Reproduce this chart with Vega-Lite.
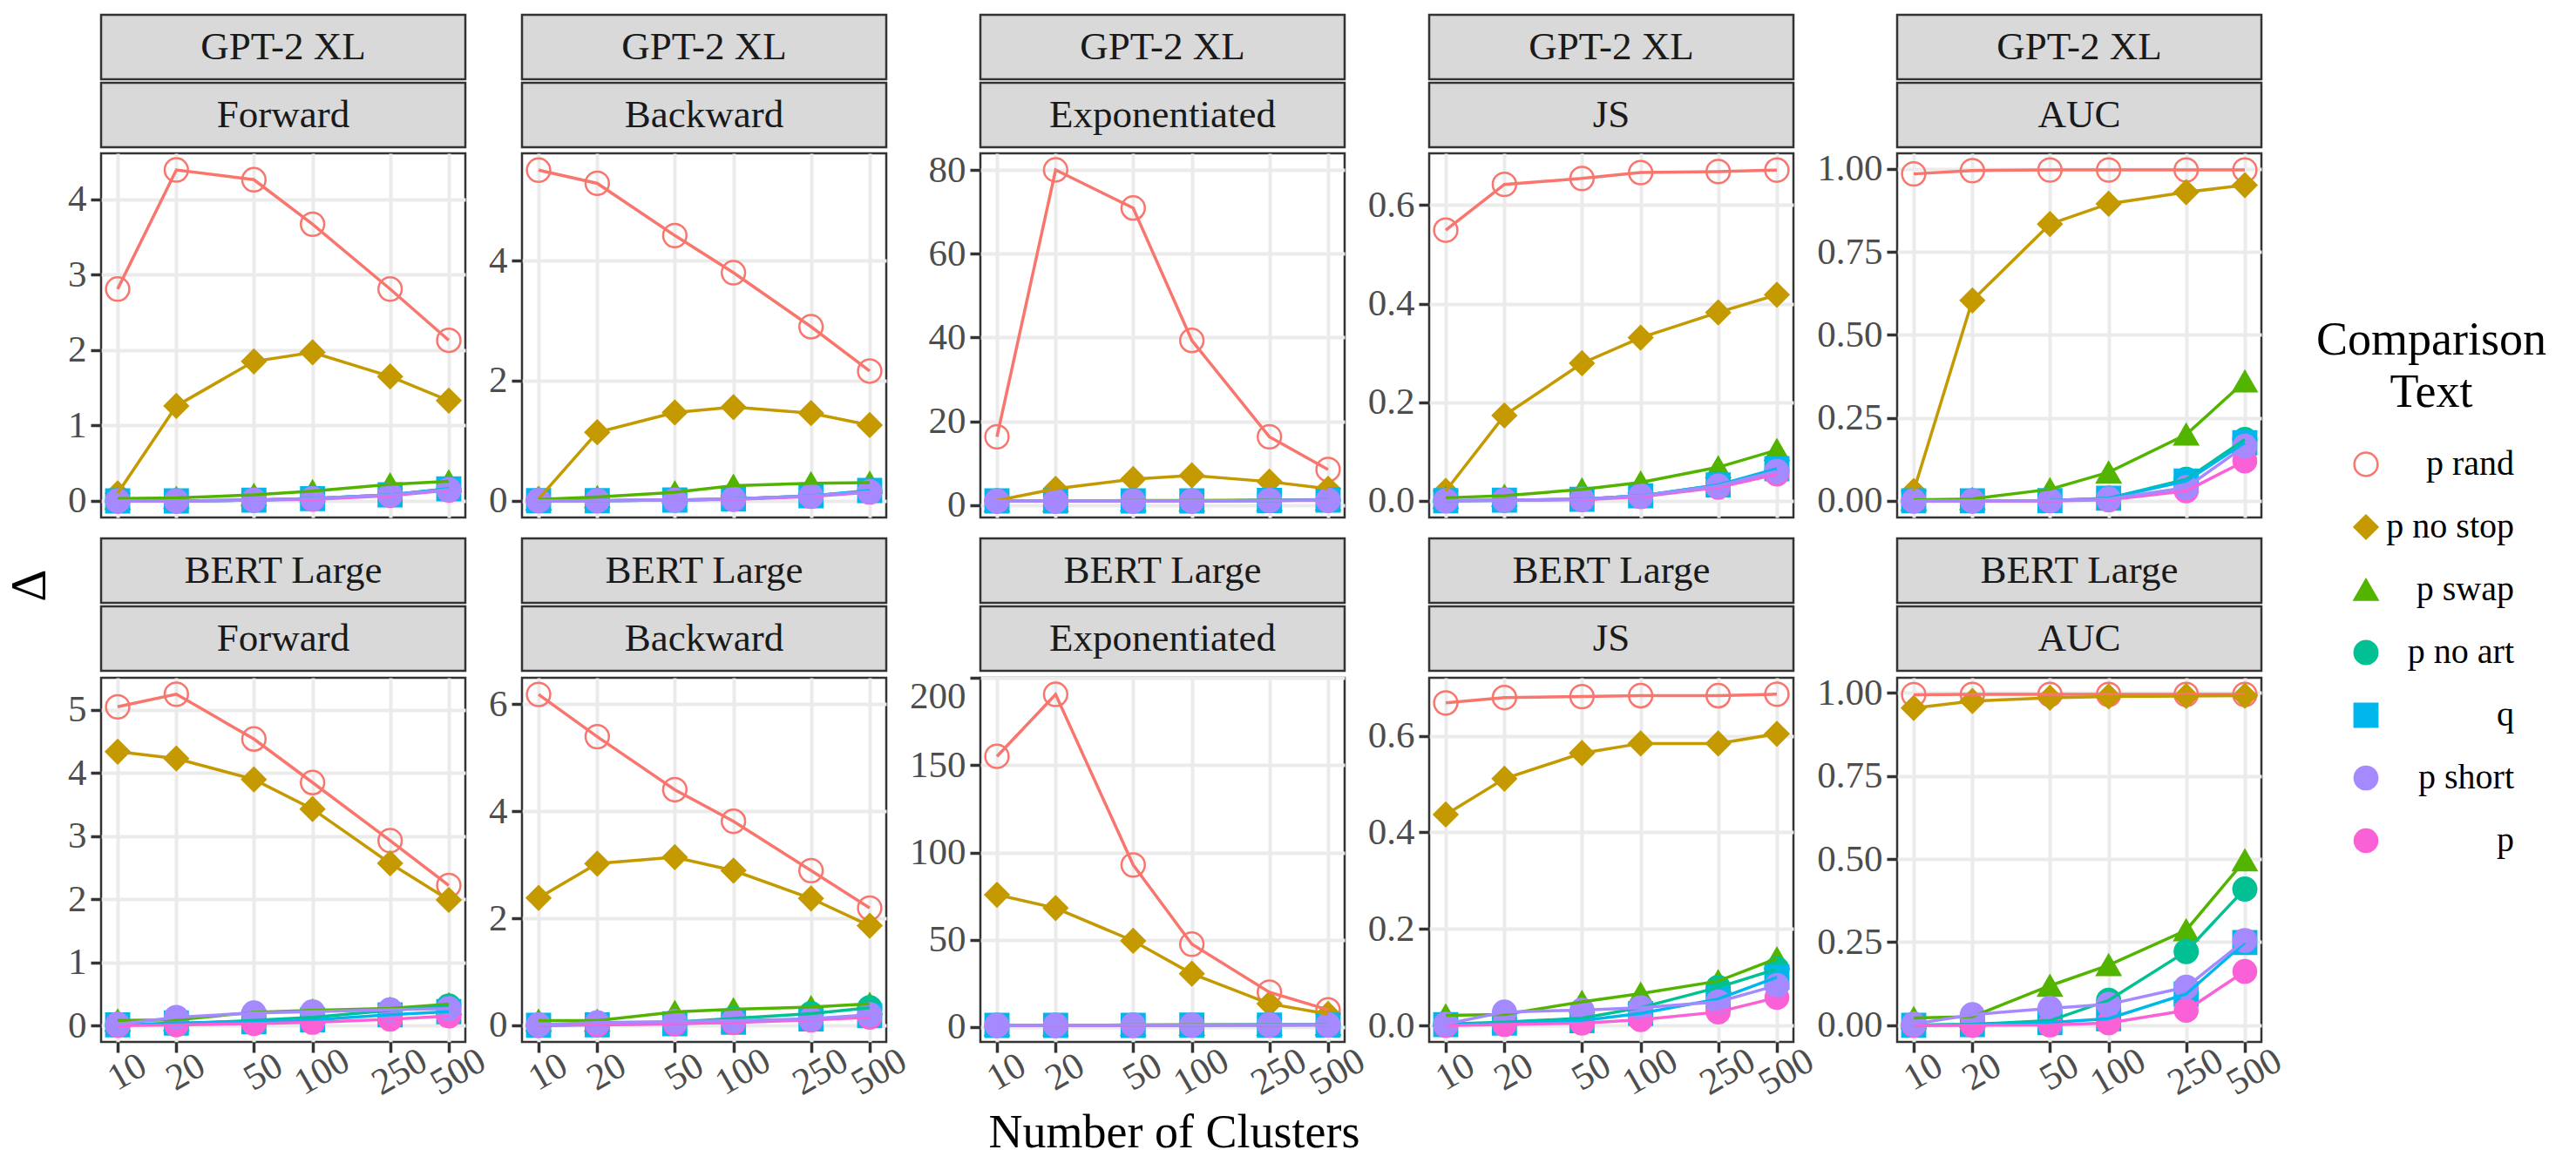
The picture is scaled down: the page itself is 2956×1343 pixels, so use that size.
{
"$schema": "https://vega.github.io/schema/vega-lite/v6.json",
"background": "white",
"padding": {"left": 6, "top": 15, "right": 10, "bottom": 10},
"title": {"text": "Δ", "orient": "left", "anchor": "middle", "font": "Liberation Serif", "fontSize": 58, "fontWeight": "normal", "color": "#000000", "offset": 12},
"config": {
  "font": "Liberation Serif",
  "view": {"stroke": "#333333", "strokeWidth": 2.5},
  "axis": {"labelFont": "Liberation Serif", "labelFontSize": 43, "labelColor": "#4D4D4D", "tickColor": "#333333", "tickWidth": 3.5, "tickSize": 12, "labelPadding": 5, "domain": false, "gridColor": "#EBEBEB", "gridWidth": 4, "titleFont": "Liberation Serif", "titleFontSize": 54, "titleFontWeight": "normal", "titleColor": "#000000", "labelFlush": false, "labelOverlap": false},
  "legend": {"titleFont": "Liberation Serif", "titleFontSize": 54, "titleFontWeight": "normal", "titleColor": "#000000", "titleAnchor": "middle", "titleAlign": "center", "titleLineHeight": 60, "titlePadding": 35, "titleLimit": 800, "labelFont": "Liberation Serif", "labelFontSize": 40, "labelColor": "#000000", "labelAlign": "right", "labelOffset": 150, "labelLimit": 400, "rowPadding": 32, "symbolStrokeWidth": 2.5, "padding": 0}
},
"datasets": {"d": [
{"model":"GPT-2 XL","metric":"Forward","text":"p rand","clusters":10,"delta":2.81},
{"model":"GPT-2 XL","metric":"Forward","text":"p rand","clusters":20,"delta":4.39},
{"model":"GPT-2 XL","metric":"Forward","text":"p rand","clusters":50,"delta":4.26},
{"model":"GPT-2 XL","metric":"Forward","text":"p rand","clusters":100,"delta":3.67},
{"model":"GPT-2 XL","metric":"Forward","text":"p rand","clusters":250,"delta":2.81},
{"model":"GPT-2 XL","metric":"Forward","text":"p rand","clusters":500,"delta":2.13},
{"model":"GPT-2 XL","metric":"Forward","text":"p no stop","clusters":10,"delta":0.10},
{"model":"GPT-2 XL","metric":"Forward","text":"p no stop","clusters":20,"delta":1.26},
{"model":"GPT-2 XL","metric":"Forward","text":"p no stop","clusters":50,"delta":1.85},
{"model":"GPT-2 XL","metric":"Forward","text":"p no stop","clusters":100,"delta":1.97},
{"model":"GPT-2 XL","metric":"Forward","text":"p no stop","clusters":250,"delta":1.65},
{"model":"GPT-2 XL","metric":"Forward","text":"p no stop","clusters":500,"delta":1.33},
{"model":"GPT-2 XL","metric":"Forward","text":"p swap","clusters":10,"delta":0.03},
{"model":"GPT-2 XL","metric":"Forward","text":"p swap","clusters":20,"delta":0.04},
{"model":"GPT-2 XL","metric":"Forward","text":"p swap","clusters":50,"delta":0.08},
{"model":"GPT-2 XL","metric":"Forward","text":"p swap","clusters":100,"delta":0.13},
{"model":"GPT-2 XL","metric":"Forward","text":"p swap","clusters":250,"delta":0.22},
{"model":"GPT-2 XL","metric":"Forward","text":"p swap","clusters":500,"delta":0.26},
{"model":"GPT-2 XL","metric":"Forward","text":"p no art","clusters":10,"delta":0.00},
{"model":"GPT-2 XL","metric":"Forward","text":"p no art","clusters":20,"delta":0.00},
{"model":"GPT-2 XL","metric":"Forward","text":"p no art","clusters":50,"delta":0.01},
{"model":"GPT-2 XL","metric":"Forward","text":"p no art","clusters":100,"delta":0.03},
{"model":"GPT-2 XL","metric":"Forward","text":"p no art","clusters":250,"delta":0.08},
{"model":"GPT-2 XL","metric":"Forward","text":"p no art","clusters":500,"delta":0.16},
{"model":"GPT-2 XL","metric":"Forward","text":"q","clusters":10,"delta":0.00},
{"model":"GPT-2 XL","metric":"Forward","text":"q","clusters":20,"delta":0.00},
{"model":"GPT-2 XL","metric":"Forward","text":"q","clusters":50,"delta":0.01},
{"model":"GPT-2 XL","metric":"Forward","text":"q","clusters":100,"delta":0.03},
{"model":"GPT-2 XL","metric":"Forward","text":"q","clusters":250,"delta":0.08},
{"model":"GPT-2 XL","metric":"Forward","text":"q","clusters":500,"delta":0.16},
{"model":"GPT-2 XL","metric":"Forward","text":"p","clusters":10,"delta":0.00},
{"model":"GPT-2 XL","metric":"Forward","text":"p","clusters":20,"delta":0.00},
{"model":"GPT-2 XL","metric":"Forward","text":"p","clusters":50,"delta":0.01},
{"model":"GPT-2 XL","metric":"Forward","text":"p","clusters":100,"delta":0.02},
{"model":"GPT-2 XL","metric":"Forward","text":"p","clusters":250,"delta":0.07},
{"model":"GPT-2 XL","metric":"Forward","text":"p","clusters":500,"delta":0.14},
{"model":"GPT-2 XL","metric":"Forward","text":"p short","clusters":10,"delta":0.00},
{"model":"GPT-2 XL","metric":"Forward","text":"p short","clusters":20,"delta":0.00},
{"model":"GPT-2 XL","metric":"Forward","text":"p short","clusters":50,"delta":0.01},
{"model":"GPT-2 XL","metric":"Forward","text":"p short","clusters":100,"delta":0.03},
{"model":"GPT-2 XL","metric":"Forward","text":"p short","clusters":250,"delta":0.08},
{"model":"GPT-2 XL","metric":"Forward","text":"p short","clusters":500,"delta":0.15},
{"model":"GPT-2 XL","metric":"Backward","text":"p rand","clusters":10,"delta":5.51},
{"model":"GPT-2 XL","metric":"Backward","text":"p rand","clusters":20,"delta":5.29},
{"model":"GPT-2 XL","metric":"Backward","text":"p rand","clusters":50,"delta":4.42},
{"model":"GPT-2 XL","metric":"Backward","text":"p rand","clusters":100,"delta":3.80},
{"model":"GPT-2 XL","metric":"Backward","text":"p rand","clusters":250,"delta":2.90},
{"model":"GPT-2 XL","metric":"Backward","text":"p rand","clusters":500,"delta":2.16},
{"model":"GPT-2 XL","metric":"Backward","text":"p no stop","clusters":10,"delta":0.03},
{"model":"GPT-2 XL","metric":"Backward","text":"p no stop","clusters":20,"delta":1.14},
{"model":"GPT-2 XL","metric":"Backward","text":"p no stop","clusters":50,"delta":1.47},
{"model":"GPT-2 XL","metric":"Backward","text":"p no stop","clusters":100,"delta":1.56},
{"model":"GPT-2 XL","metric":"Backward","text":"p no stop","clusters":250,"delta":1.46},
{"model":"GPT-2 XL","metric":"Backward","text":"p no stop","clusters":500,"delta":1.26},
{"model":"GPT-2 XL","metric":"Backward","text":"p swap","clusters":10,"delta":0.02},
{"model":"GPT-2 XL","metric":"Backward","text":"p swap","clusters":20,"delta":0.06},
{"model":"GPT-2 XL","metric":"Backward","text":"p swap","clusters":50,"delta":0.14},
{"model":"GPT-2 XL","metric":"Backward","text":"p swap","clusters":100,"delta":0.25},
{"model":"GPT-2 XL","metric":"Backward","text":"p swap","clusters":250,"delta":0.29},
{"model":"GPT-2 XL","metric":"Backward","text":"p swap","clusters":500,"delta":0.30},
{"model":"GPT-2 XL","metric":"Backward","text":"p no art","clusters":10,"delta":0.00},
{"model":"GPT-2 XL","metric":"Backward","text":"p no art","clusters":20,"delta":0.00},
{"model":"GPT-2 XL","metric":"Backward","text":"p no art","clusters":50,"delta":0.01},
{"model":"GPT-2 XL","metric":"Backward","text":"p no art","clusters":100,"delta":0.03},
{"model":"GPT-2 XL","metric":"Backward","text":"p no art","clusters":250,"delta":0.08},
{"model":"GPT-2 XL","metric":"Backward","text":"p no art","clusters":500,"delta":0.16},
{"model":"GPT-2 XL","metric":"Backward","text":"q","clusters":10,"delta":0.00},
{"model":"GPT-2 XL","metric":"Backward","text":"q","clusters":20,"delta":0.00},
{"model":"GPT-2 XL","metric":"Backward","text":"q","clusters":50,"delta":0.01},
{"model":"GPT-2 XL","metric":"Backward","text":"q","clusters":100,"delta":0.03},
{"model":"GPT-2 XL","metric":"Backward","text":"q","clusters":250,"delta":0.08},
{"model":"GPT-2 XL","metric":"Backward","text":"q","clusters":500,"delta":0.17},
{"model":"GPT-2 XL","metric":"Backward","text":"p","clusters":10,"delta":0.00},
{"model":"GPT-2 XL","metric":"Backward","text":"p","clusters":20,"delta":0.00},
{"model":"GPT-2 XL","metric":"Backward","text":"p","clusters":50,"delta":0.01},
{"model":"GPT-2 XL","metric":"Backward","text":"p","clusters":100,"delta":0.02},
{"model":"GPT-2 XL","metric":"Backward","text":"p","clusters":250,"delta":0.07},
{"model":"GPT-2 XL","metric":"Backward","text":"p","clusters":500,"delta":0.14},
{"model":"GPT-2 XL","metric":"Backward","text":"p short","clusters":10,"delta":0.00},
{"model":"GPT-2 XL","metric":"Backward","text":"p short","clusters":20,"delta":0.00},
{"model":"GPT-2 XL","metric":"Backward","text":"p short","clusters":50,"delta":0.01},
{"model":"GPT-2 XL","metric":"Backward","text":"p short","clusters":100,"delta":0.03},
{"model":"GPT-2 XL","metric":"Backward","text":"p short","clusters":250,"delta":0.08},
{"model":"GPT-2 XL","metric":"Backward","text":"p short","clusters":500,"delta":0.15},
{"model":"GPT-2 XL","metric":"Exponentiated","text":"p rand","clusters":10,"delta":16.3},
{"model":"GPT-2 XL","metric":"Exponentiated","text":"p rand","clusters":20,"delta":80.0},
{"model":"GPT-2 XL","metric":"Exponentiated","text":"p rand","clusters":50,"delta":70.9},
{"model":"GPT-2 XL","metric":"Exponentiated","text":"p rand","clusters":100,"delta":39.3},
{"model":"GPT-2 XL","metric":"Exponentiated","text":"p rand","clusters":250,"delta":16.3},
{"model":"GPT-2 XL","metric":"Exponentiated","text":"p rand","clusters":500,"delta":8.5},
{"model":"GPT-2 XL","metric":"Exponentiated","text":"p no stop","clusters":10,"delta":1.1},
{"model":"GPT-2 XL","metric":"Exponentiated","text":"p no stop","clusters":20,"delta":3.9},
{"model":"GPT-2 XL","metric":"Exponentiated","text":"p no stop","clusters":50,"delta":6.2},
{"model":"GPT-2 XL","metric":"Exponentiated","text":"p no stop","clusters":100,"delta":7.1},
{"model":"GPT-2 XL","metric":"Exponentiated","text":"p no stop","clusters":250,"delta":5.6},
{"model":"GPT-2 XL","metric":"Exponentiated","text":"p no stop","clusters":500,"delta":3.9},
{"model":"GPT-2 XL","metric":"Exponentiated","text":"p swap","clusters":10,"delta":1.0},
{"model":"GPT-2 XL","metric":"Exponentiated","text":"p swap","clusters":20,"delta":1.0},
{"model":"GPT-2 XL","metric":"Exponentiated","text":"p swap","clusters":50,"delta":1.1},
{"model":"GPT-2 XL","metric":"Exponentiated","text":"p swap","clusters":100,"delta":1.1},
{"model":"GPT-2 XL","metric":"Exponentiated","text":"p swap","clusters":250,"delta":1.2},
{"model":"GPT-2 XL","metric":"Exponentiated","text":"p swap","clusters":500,"delta":1.3},
{"model":"GPT-2 XL","metric":"Exponentiated","text":"p no art","clusters":10,"delta":1.0},
{"model":"GPT-2 XL","metric":"Exponentiated","text":"p no art","clusters":20,"delta":1.0},
{"model":"GPT-2 XL","metric":"Exponentiated","text":"p no art","clusters":50,"delta":1.0},
{"model":"GPT-2 XL","metric":"Exponentiated","text":"p no art","clusters":100,"delta":1.0},
{"model":"GPT-2 XL","metric":"Exponentiated","text":"p no art","clusters":250,"delta":1.1},
{"model":"GPT-2 XL","metric":"Exponentiated","text":"p no art","clusters":500,"delta":1.2},
{"model":"GPT-2 XL","metric":"Exponentiated","text":"q","clusters":10,"delta":1.0},
{"model":"GPT-2 XL","metric":"Exponentiated","text":"q","clusters":20,"delta":1.0},
{"model":"GPT-2 XL","metric":"Exponentiated","text":"q","clusters":50,"delta":1.0},
{"model":"GPT-2 XL","metric":"Exponentiated","text":"q","clusters":100,"delta":1.0},
{"model":"GPT-2 XL","metric":"Exponentiated","text":"q","clusters":250,"delta":1.1},
{"model":"GPT-2 XL","metric":"Exponentiated","text":"q","clusters":500,"delta":1.2},
{"model":"GPT-2 XL","metric":"Exponentiated","text":"p","clusters":10,"delta":1.0},
{"model":"GPT-2 XL","metric":"Exponentiated","text":"p","clusters":20,"delta":1.0},
{"model":"GPT-2 XL","metric":"Exponentiated","text":"p","clusters":50,"delta":1.0},
{"model":"GPT-2 XL","metric":"Exponentiated","text":"p","clusters":100,"delta":1.0},
{"model":"GPT-2 XL","metric":"Exponentiated","text":"p","clusters":250,"delta":1.1},
{"model":"GPT-2 XL","metric":"Exponentiated","text":"p","clusters":500,"delta":1.1},
{"model":"GPT-2 XL","metric":"Exponentiated","text":"p short","clusters":10,"delta":1.0},
{"model":"GPT-2 XL","metric":"Exponentiated","text":"p short","clusters":20,"delta":1.0},
{"model":"GPT-2 XL","metric":"Exponentiated","text":"p short","clusters":50,"delta":1.0},
{"model":"GPT-2 XL","metric":"Exponentiated","text":"p short","clusters":100,"delta":1.0},
{"model":"GPT-2 XL","metric":"Exponentiated","text":"p short","clusters":250,"delta":1.1},
{"model":"GPT-2 XL","metric":"Exponentiated","text":"p short","clusters":500,"delta":1.2},
{"model":"GPT-2 XL","metric":"JS","text":"p rand","clusters":10,"delta":0.549},
{"model":"GPT-2 XL","metric":"JS","text":"p rand","clusters":20,"delta":0.642},
{"model":"GPT-2 XL","metric":"JS","text":"p rand","clusters":50,"delta":0.654},
{"model":"GPT-2 XL","metric":"JS","text":"p rand","clusters":100,"delta":0.666},
{"model":"GPT-2 XL","metric":"JS","text":"p rand","clusters":250,"delta":0.668},
{"model":"GPT-2 XL","metric":"JS","text":"p rand","clusters":500,"delta":0.671},
{"model":"GPT-2 XL","metric":"JS","text":"p no stop","clusters":10,"delta":0.02},
{"model":"GPT-2 XL","metric":"JS","text":"p no stop","clusters":20,"delta":0.173},
{"model":"GPT-2 XL","metric":"JS","text":"p no stop","clusters":50,"delta":0.279},
{"model":"GPT-2 XL","metric":"JS","text":"p no stop","clusters":100,"delta":0.331},
{"model":"GPT-2 XL","metric":"JS","text":"p no stop","clusters":250,"delta":0.382},
{"model":"GPT-2 XL","metric":"JS","text":"p no stop","clusters":500,"delta":0.418},
{"model":"GPT-2 XL","metric":"JS","text":"p swap","clusters":10,"delta":0.006},
{"model":"GPT-2 XL","metric":"JS","text":"p swap","clusters":20,"delta":0.010},
{"model":"GPT-2 XL","metric":"JS","text":"p swap","clusters":50,"delta":0.023},
{"model":"GPT-2 XL","metric":"JS","text":"p swap","clusters":100,"delta":0.037},
{"model":"GPT-2 XL","metric":"JS","text":"p swap","clusters":250,"delta":0.068},
{"model":"GPT-2 XL","metric":"JS","text":"p swap","clusters":500,"delta":0.103},
{"model":"GPT-2 XL","metric":"JS","text":"p no art","clusters":10,"delta":0.000},
{"model":"GPT-2 XL","metric":"JS","text":"p no art","clusters":20,"delta":0.001},
{"model":"GPT-2 XL","metric":"JS","text":"p no art","clusters":50,"delta":0.003},
{"model":"GPT-2 XL","metric":"JS","text":"p no art","clusters":100,"delta":0.010},
{"model":"GPT-2 XL","metric":"JS","text":"p no art","clusters":250,"delta":0.032},
{"model":"GPT-2 XL","metric":"JS","text":"p no art","clusters":500,"delta":0.062},
{"model":"GPT-2 XL","metric":"JS","text":"q","clusters":10,"delta":0.000},
{"model":"GPT-2 XL","metric":"JS","text":"q","clusters":20,"delta":0.001},
{"model":"GPT-2 XL","metric":"JS","text":"q","clusters":50,"delta":0.003},
{"model":"GPT-2 XL","metric":"JS","text":"q","clusters":100,"delta":0.010},
{"model":"GPT-2 XL","metric":"JS","text":"q","clusters":250,"delta":0.032},
{"model":"GPT-2 XL","metric":"JS","text":"q","clusters":500,"delta":0.065},
{"model":"GPT-2 XL","metric":"JS","text":"p","clusters":10,"delta":0.000},
{"model":"GPT-2 XL","metric":"JS","text":"p","clusters":20,"delta":0.001},
{"model":"GPT-2 XL","metric":"JS","text":"p","clusters":50,"delta":0.002},
{"model":"GPT-2 XL","metric":"JS","text":"p","clusters":100,"delta":0.008},
{"model":"GPT-2 XL","metric":"JS","text":"p","clusters":250,"delta":0.027},
{"model":"GPT-2 XL","metric":"JS","text":"p","clusters":500,"delta":0.054},
{"model":"GPT-2 XL","metric":"JS","text":"p short","clusters":10,"delta":0.000},
{"model":"GPT-2 XL","metric":"JS","text":"p short","clusters":20,"delta":0.001},
{"model":"GPT-2 XL","metric":"JS","text":"p short","clusters":50,"delta":0.003},
{"model":"GPT-2 XL","metric":"JS","text":"p short","clusters":100,"delta":0.010},
{"model":"GPT-2 XL","metric":"JS","text":"p short","clusters":250,"delta":0.030},
{"model":"GPT-2 XL","metric":"JS","text":"p short","clusters":500,"delta":0.060},
{"model":"GPT-2 XL","metric":"AUC","text":"p rand","clusters":10,"delta":0.985},
{"model":"GPT-2 XL","metric":"AUC","text":"p rand","clusters":20,"delta":0.995},
{"model":"GPT-2 XL","metric":"AUC","text":"p rand","clusters":50,"delta":0.997},
{"model":"GPT-2 XL","metric":"AUC","text":"p rand","clusters":100,"delta":0.997},
{"model":"GPT-2 XL","metric":"AUC","text":"p rand","clusters":250,"delta":0.997},
{"model":"GPT-2 XL","metric":"AUC","text":"p rand","clusters":500,"delta":0.997},
{"model":"GPT-2 XL","metric":"AUC","text":"p no stop","clusters":10,"delta":0.03},
{"model":"GPT-2 XL","metric":"AUC","text":"p no stop","clusters":20,"delta":0.604},
{"model":"GPT-2 XL","metric":"AUC","text":"p no stop","clusters":50,"delta":0.834},
{"model":"GPT-2 XL","metric":"AUC","text":"p no stop","clusters":100,"delta":0.895},
{"model":"GPT-2 XL","metric":"AUC","text":"p no stop","clusters":250,"delta":0.930},
{"model":"GPT-2 XL","metric":"AUC","text":"p no stop","clusters":500,"delta":0.951},
{"model":"GPT-2 XL","metric":"AUC","text":"p swap","clusters":10,"delta":0.003},
{"model":"GPT-2 XL","metric":"AUC","text":"p swap","clusters":20,"delta":0.006},
{"model":"GPT-2 XL","metric":"AUC","text":"p swap","clusters":50,"delta":0.035},
{"model":"GPT-2 XL","metric":"AUC","text":"p swap","clusters":100,"delta":0.086},
{"model":"GPT-2 XL","metric":"AUC","text":"p swap","clusters":250,"delta":0.200},
{"model":"GPT-2 XL","metric":"AUC","text":"p swap","clusters":500,"delta":0.360},
{"model":"GPT-2 XL","metric":"AUC","text":"p no art","clusters":10,"delta":0.000},
{"model":"GPT-2 XL","metric":"AUC","text":"p no art","clusters":20,"delta":0.000},
{"model":"GPT-2 XL","metric":"AUC","text":"p no art","clusters":50,"delta":0.001},
{"model":"GPT-2 XL","metric":"AUC","text":"p no art","clusters":100,"delta":0.008},
{"model":"GPT-2 XL","metric":"AUC","text":"p no art","clusters":250,"delta":0.065},
{"model":"GPT-2 XL","metric":"AUC","text":"p no art","clusters":500,"delta":0.185},
{"model":"GPT-2 XL","metric":"AUC","text":"q","clusters":10,"delta":0.000},
{"model":"GPT-2 XL","metric":"AUC","text":"q","clusters":20,"delta":0.000},
{"model":"GPT-2 XL","metric":"AUC","text":"q","clusters":50,"delta":0.001},
{"model":"GPT-2 XL","metric":"AUC","text":"q","clusters":100,"delta":0.008},
{"model":"GPT-2 XL","metric":"AUC","text":"q","clusters":250,"delta":0.060},
{"model":"GPT-2 XL","metric":"AUC","text":"q","clusters":500,"delta":0.175},
{"model":"GPT-2 XL","metric":"AUC","text":"p","clusters":10,"delta":0.000},
{"model":"GPT-2 XL","metric":"AUC","text":"p","clusters":20,"delta":0.000},
{"model":"GPT-2 XL","metric":"AUC","text":"p","clusters":50,"delta":0.000},
{"model":"GPT-2 XL","metric":"AUC","text":"p","clusters":100,"delta":0.003},
{"model":"GPT-2 XL","metric":"AUC","text":"p","clusters":250,"delta":0.030},
{"model":"GPT-2 XL","metric":"AUC","text":"p","clusters":500,"delta":0.120},
{"model":"GPT-2 XL","metric":"AUC","text":"p short","clusters":10,"delta":0.000},
{"model":"GPT-2 XL","metric":"AUC","text":"p short","clusters":20,"delta":0.000},
{"model":"GPT-2 XL","metric":"AUC","text":"p short","clusters":50,"delta":0.001},
{"model":"GPT-2 XL","metric":"AUC","text":"p short","clusters":100,"delta":0.006},
{"model":"GPT-2 XL","metric":"AUC","text":"p short","clusters":250,"delta":0.040},
{"model":"GPT-2 XL","metric":"AUC","text":"p short","clusters":500,"delta":0.165},
{"model":"BERT Large","metric":"Forward","text":"p rand","clusters":10,"delta":5.05},
{"model":"BERT Large","metric":"Forward","text":"p rand","clusters":20,"delta":5.25},
{"model":"BERT Large","metric":"Forward","text":"p rand","clusters":50,"delta":4.54},
{"model":"BERT Large","metric":"Forward","text":"p rand","clusters":100,"delta":3.85},
{"model":"BERT Large","metric":"Forward","text":"p rand","clusters":250,"delta":2.93},
{"model":"BERT Large","metric":"Forward","text":"p rand","clusters":500,"delta":2.22},
{"model":"BERT Large","metric":"Forward","text":"p no stop","clusters":10,"delta":4.34},
{"model":"BERT Large","metric":"Forward","text":"p no stop","clusters":20,"delta":4.23},
{"model":"BERT Large","metric":"Forward","text":"p no stop","clusters":50,"delta":3.90},
{"model":"BERT Large","metric":"Forward","text":"p no stop","clusters":100,"delta":3.43},
{"model":"BERT Large","metric":"Forward","text":"p no stop","clusters":250,"delta":2.57},
{"model":"BERT Large","metric":"Forward","text":"p no stop","clusters":500,"delta":1.99},
{"model":"BERT Large","metric":"Forward","text":"p swap","clusters":10,"delta":0.08},
{"model":"BERT Large","metric":"Forward","text":"p swap","clusters":20,"delta":0.09},
{"model":"BERT Large","metric":"Forward","text":"p swap","clusters":50,"delta":0.21},
{"model":"BERT Large","metric":"Forward","text":"p swap","clusters":100,"delta":0.24},
{"model":"BERT Large","metric":"Forward","text":"p swap","clusters":250,"delta":0.27},
{"model":"BERT Large","metric":"Forward","text":"p swap","clusters":500,"delta":0.34},
{"model":"BERT Large","metric":"Forward","text":"p no art","clusters":10,"delta":0.01},
{"model":"BERT Large","metric":"Forward","text":"p no art","clusters":20,"delta":0.03},
{"model":"BERT Large","metric":"Forward","text":"p no art","clusters":50,"delta":0.08},
{"model":"BERT Large","metric":"Forward","text":"p no art","clusters":100,"delta":0.13},
{"model":"BERT Large","metric":"Forward","text":"p no art","clusters":250,"delta":0.24},
{"model":"BERT Large","metric":"Forward","text":"p no art","clusters":500,"delta":0.31},
{"model":"BERT Large","metric":"Forward","text":"q","clusters":10,"delta":0.01},
{"model":"BERT Large","metric":"Forward","text":"q","clusters":20,"delta":0.04},
{"model":"BERT Large","metric":"Forward","text":"q","clusters":50,"delta":0.06},
{"model":"BERT Large","metric":"Forward","text":"q","clusters":100,"delta":0.09},
{"model":"BERT Large","metric":"Forward","text":"q","clusters":250,"delta":0.17},
{"model":"BERT Large","metric":"Forward","text":"q","clusters":500,"delta":0.22},
{"model":"BERT Large","metric":"Forward","text":"p","clusters":10,"delta":0.00},
{"model":"BERT Large","metric":"Forward","text":"p","clusters":20,"delta":0.01},
{"model":"BERT Large","metric":"Forward","text":"p","clusters":50,"delta":0.03},
{"model":"BERT Large","metric":"Forward","text":"p","clusters":100,"delta":0.05},
{"model":"BERT Large","metric":"Forward","text":"p","clusters":250,"delta":0.10},
{"model":"BERT Large","metric":"Forward","text":"p","clusters":500,"delta":0.15},
{"model":"BERT Large","metric":"Forward","text":"p short","clusters":10,"delta":0.02},
{"model":"BERT Large","metric":"Forward","text":"p short","clusters":20,"delta":0.13},
{"model":"BERT Large","metric":"Forward","text":"p short","clusters":50,"delta":0.20},
{"model":"BERT Large","metric":"Forward","text":"p short","clusters":100,"delta":0.22},
{"model":"BERT Large","metric":"Forward","text":"p short","clusters":250,"delta":0.25},
{"model":"BERT Large","metric":"Forward","text":"p short","clusters":500,"delta":0.27},
{"model":"BERT Large","metric":"Backward","text":"p rand","clusters":10,"delta":6.18},
{"model":"BERT Large","metric":"Backward","text":"p rand","clusters":20,"delta":5.39},
{"model":"BERT Large","metric":"Backward","text":"p rand","clusters":50,"delta":4.40},
{"model":"BERT Large","metric":"Backward","text":"p rand","clusters":100,"delta":3.81},
{"model":"BERT Large","metric":"Backward","text":"p rand","clusters":250,"delta":2.89},
{"model":"BERT Large","metric":"Backward","text":"p rand","clusters":500,"delta":2.19},
{"model":"BERT Large","metric":"Backward","text":"p no stop","clusters":10,"delta":2.38},
{"model":"BERT Large","metric":"Backward","text":"p no stop","clusters":20,"delta":3.02},
{"model":"BERT Large","metric":"Backward","text":"p no stop","clusters":50,"delta":3.14},
{"model":"BERT Large","metric":"Backward","text":"p no stop","clusters":100,"delta":2.89},
{"model":"BERT Large","metric":"Backward","text":"p no stop","clusters":250,"delta":2.37},
{"model":"BERT Large","metric":"Backward","text":"p no stop","clusters":500,"delta":1.86},
{"model":"BERT Large","metric":"Backward","text":"p swap","clusters":10,"delta":0.09},
{"model":"BERT Large","metric":"Backward","text":"p swap","clusters":20,"delta":0.09},
{"model":"BERT Large","metric":"Backward","text":"p swap","clusters":50,"delta":0.25},
{"model":"BERT Large","metric":"Backward","text":"p swap","clusters":100,"delta":0.30},
{"model":"BERT Large","metric":"Backward","text":"p swap","clusters":250,"delta":0.34},
{"model":"BERT Large","metric":"Backward","text":"p swap","clusters":500,"delta":0.40},
{"model":"BERT Large","metric":"Backward","text":"p no art","clusters":10,"delta":0.00},
{"model":"BERT Large","metric":"Backward","text":"p no art","clusters":20,"delta":0.02},
{"model":"BERT Large","metric":"Backward","text":"p no art","clusters":50,"delta":0.06},
{"model":"BERT Large","metric":"Backward","text":"p no art","clusters":100,"delta":0.13},
{"model":"BERT Large","metric":"Backward","text":"p no art","clusters":250,"delta":0.22},
{"model":"BERT Large","metric":"Backward","text":"p no art","clusters":500,"delta":0.33},
{"model":"BERT Large","metric":"Backward","text":"q","clusters":10,"delta":0.00},
{"model":"BERT Large","metric":"Backward","text":"q","clusters":20,"delta":0.01},
{"model":"BERT Large","metric":"Backward","text":"q","clusters":50,"delta":0.03},
{"model":"BERT Large","metric":"Backward","text":"q","clusters":100,"delta":0.06},
{"model":"BERT Large","metric":"Backward","text":"q","clusters":250,"delta":0.12},
{"model":"BERT Large","metric":"Backward","text":"q","clusters":500,"delta":0.18},
{"model":"BERT Large","metric":"Backward","text":"p","clusters":10,"delta":0.00},
{"model":"BERT Large","metric":"Backward","text":"p","clusters":20,"delta":0.01},
{"model":"BERT Large","metric":"Backward","text":"p","clusters":50,"delta":0.03},
{"model":"BERT Large","metric":"Backward","text":"p","clusters":100,"delta":0.05},
{"model":"BERT Large","metric":"Backward","text":"p","clusters":250,"delta":0.10},
{"model":"BERT Large","metric":"Backward","text":"p","clusters":500,"delta":0.15},
{"model":"BERT Large","metric":"Backward","text":"p short","clusters":10,"delta":0.01},
{"model":"BERT Large","metric":"Backward","text":"p short","clusters":20,"delta":0.05},
{"model":"BERT Large","metric":"Backward","text":"p short","clusters":50,"delta":0.07},
{"model":"BERT Large","metric":"Backward","text":"p short","clusters":100,"delta":0.09},
{"model":"BERT Large","metric":"Backward","text":"p short","clusters":250,"delta":0.12},
{"model":"BERT Large","metric":"Backward","text":"p short","clusters":500,"delta":0.20},
{"model":"BERT Large","metric":"Exponentiated","text":"p rand","clusters":10,"delta":155.1},
{"model":"BERT Large","metric":"Exponentiated","text":"p rand","clusters":20,"delta":190.6},
{"model":"BERT Large","metric":"Exponentiated","text":"p rand","clusters":50,"delta":92.9},
{"model":"BERT Large","metric":"Exponentiated","text":"p rand","clusters":100,"delta":47.5},
{"model":"BERT Large","metric":"Exponentiated","text":"p rand","clusters":250,"delta":20.0},
{"model":"BERT Large","metric":"Exponentiated","text":"p rand","clusters":500,"delta":9.9},
{"model":"BERT Large","metric":"Exponentiated","text":"p no stop","clusters":10,"delta":75.8},
{"model":"BERT Large","metric":"Exponentiated","text":"p no stop","clusters":20,"delta":68.2},
{"model":"BERT Large","metric":"Exponentiated","text":"p no stop","clusters":50,"delta":49.4},
{"model":"BERT Large","metric":"Exponentiated","text":"p no stop","clusters":100,"delta":30.6},
{"model":"BERT Large","metric":"Exponentiated","text":"p no stop","clusters":250,"delta":13.4},
{"model":"BERT Large","metric":"Exponentiated","text":"p no stop","clusters":500,"delta":7.5},
{"model":"BERT Large","metric":"Exponentiated","text":"p swap","clusters":10,"delta":1.1},
{"model":"BERT Large","metric":"Exponentiated","text":"p swap","clusters":20,"delta":1.1},
{"model":"BERT Large","metric":"Exponentiated","text":"p swap","clusters":50,"delta":1.2},
{"model":"BERT Large","metric":"Exponentiated","text":"p swap","clusters":100,"delta":1.3},
{"model":"BERT Large","metric":"Exponentiated","text":"p swap","clusters":250,"delta":1.3},
{"model":"BERT Large","metric":"Exponentiated","text":"p swap","clusters":500,"delta":1.4},
{"model":"BERT Large","metric":"Exponentiated","text":"p no art","clusters":10,"delta":1.0},
{"model":"BERT Large","metric":"Exponentiated","text":"p no art","clusters":20,"delta":1.0},
{"model":"BERT Large","metric":"Exponentiated","text":"p no art","clusters":50,"delta":1.1},
{"model":"BERT Large","metric":"Exponentiated","text":"p no art","clusters":100,"delta":1.1},
{"model":"BERT Large","metric":"Exponentiated","text":"p no art","clusters":250,"delta":1.3},
{"model":"BERT Large","metric":"Exponentiated","text":"p no art","clusters":500,"delta":1.4},
{"model":"BERT Large","metric":"Exponentiated","text":"q","clusters":10,"delta":1.0},
{"model":"BERT Large","metric":"Exponentiated","text":"q","clusters":20,"delta":1.0},
{"model":"BERT Large","metric":"Exponentiated","text":"q","clusters":50,"delta":1.0},
{"model":"BERT Large","metric":"Exponentiated","text":"q","clusters":100,"delta":1.1},
{"model":"BERT Large","metric":"Exponentiated","text":"q","clusters":250,"delta":1.1},
{"model":"BERT Large","metric":"Exponentiated","text":"q","clusters":500,"delta":1.2},
{"model":"BERT Large","metric":"Exponentiated","text":"p","clusters":10,"delta":1.0},
{"model":"BERT Large","metric":"Exponentiated","text":"p","clusters":20,"delta":1.0},
{"model":"BERT Large","metric":"Exponentiated","text":"p","clusters":50,"delta":1.0},
{"model":"BERT Large","metric":"Exponentiated","text":"p","clusters":100,"delta":1.1},
{"model":"BERT Large","metric":"Exponentiated","text":"p","clusters":250,"delta":1.1},
{"model":"BERT Large","metric":"Exponentiated","text":"p","clusters":500,"delta":1.2},
{"model":"BERT Large","metric":"Exponentiated","text":"p short","clusters":10,"delta":1.0},
{"model":"BERT Large","metric":"Exponentiated","text":"p short","clusters":20,"delta":1.1},
{"model":"BERT Large","metric":"Exponentiated","text":"p short","clusters":50,"delta":1.2},
{"model":"BERT Large","metric":"Exponentiated","text":"p short","clusters":100,"delta":1.2},
{"model":"BERT Large","metric":"Exponentiated","text":"p short","clusters":250,"delta":1.3},
{"model":"BERT Large","metric":"Exponentiated","text":"p short","clusters":500,"delta":1.3},
{"model":"BERT Large","metric":"JS","text":"p rand","clusters":10,"delta":0.668},
{"model":"BERT Large","metric":"JS","text":"p rand","clusters":20,"delta":0.679},
{"model":"BERT Large","metric":"JS","text":"p rand","clusters":50,"delta":0.681},
{"model":"BERT Large","metric":"JS","text":"p rand","clusters":100,"delta":0.683},
{"model":"BERT Large","metric":"JS","text":"p rand","clusters":250,"delta":0.683},
{"model":"BERT Large","metric":"JS","text":"p rand","clusters":500,"delta":0.686},
{"model":"BERT Large","metric":"JS","text":"p no stop","clusters":10,"delta":0.437},
{"model":"BERT Large","metric":"JS","text":"p no stop","clusters":20,"delta":0.511},
{"model":"BERT Large","metric":"JS","text":"p no stop","clusters":50,"delta":0.564},
{"model":"BERT Large","metric":"JS","text":"p no stop","clusters":100,"delta":0.584},
{"model":"BERT Large","metric":"JS","text":"p no stop","clusters":250,"delta":0.584},
{"model":"BERT Large","metric":"JS","text":"p no stop","clusters":500,"delta":0.604},
{"model":"BERT Large","metric":"JS","text":"p swap","clusters":10,"delta":0.021},
{"model":"BERT Large","metric":"JS","text":"p swap","clusters":20,"delta":0.023},
{"model":"BERT Large","metric":"JS","text":"p swap","clusters":50,"delta":0.049},
{"model":"BERT Large","metric":"JS","text":"p swap","clusters":100,"delta":0.066},
{"model":"BERT Large","metric":"JS","text":"p swap","clusters":250,"delta":0.092},
{"model":"BERT Large","metric":"JS","text":"p swap","clusters":500,"delta":0.139},
{"model":"BERT Large","metric":"JS","text":"p no art","clusters":10,"delta":0.003},
{"model":"BERT Large","metric":"JS","text":"p no art","clusters":20,"delta":0.007},
{"model":"BERT Large","metric":"JS","text":"p no art","clusters":50,"delta":0.015},
{"model":"BERT Large","metric":"JS","text":"p no art","clusters":100,"delta":0.037},
{"model":"BERT Large","metric":"JS","text":"p no art","clusters":250,"delta":0.079},
{"model":"BERT Large","metric":"JS","text":"p no art","clusters":500,"delta":0.117},
{"model":"BERT Large","metric":"JS","text":"q","clusters":10,"delta":0.002},
{"model":"BERT Large","metric":"JS","text":"q","clusters":20,"delta":0.005},
{"model":"BERT Large","metric":"JS","text":"q","clusters":50,"delta":0.010},
{"model":"BERT Large","metric":"JS","text":"q","clusters":100,"delta":0.025},
{"model":"BERT Large","metric":"JS","text":"q","clusters":250,"delta":0.055},
{"model":"BERT Large","metric":"JS","text":"q","clusters":500,"delta":0.100},
{"model":"BERT Large","metric":"JS","text":"p","clusters":10,"delta":0.000},
{"model":"BERT Large","metric":"JS","text":"p","clusters":20,"delta":0.002},
{"model":"BERT Large","metric":"JS","text":"p","clusters":50,"delta":0.005},
{"model":"BERT Large","metric":"JS","text":"p","clusters":100,"delta":0.012},
{"model":"BERT Large","metric":"JS","text":"p","clusters":250,"delta":0.028},
{"model":"BERT Large","metric":"JS","text":"p","clusters":500,"delta":0.058},
{"model":"BERT Large","metric":"JS","text":"p short","clusters":10,"delta":0.003},
{"model":"BERT Large","metric":"JS","text":"p short","clusters":20,"delta":0.028},
{"model":"BERT Large","metric":"JS","text":"p short","clusters":50,"delta":0.032},
{"model":"BERT Large","metric":"JS","text":"p short","clusters":100,"delta":0.037},
{"model":"BERT Large","metric":"JS","text":"p short","clusters":250,"delta":0.049},
{"model":"BERT Large","metric":"JS","text":"p short","clusters":500,"delta":0.083},
{"model":"BERT Large","metric":"AUC","text":"p rand","clusters":10,"delta":0.994},
{"model":"BERT Large","metric":"AUC","text":"p rand","clusters":20,"delta":0.995},
{"model":"BERT Large","metric":"AUC","text":"p rand","clusters":50,"delta":0.995},
{"model":"BERT Large","metric":"AUC","text":"p rand","clusters":100,"delta":0.995},
{"model":"BERT Large","metric":"AUC","text":"p rand","clusters":250,"delta":0.995},
{"model":"BERT Large","metric":"AUC","text":"p rand","clusters":500,"delta":0.995},
{"model":"BERT Large","metric":"AUC","text":"p no stop","clusters":10,"delta":0.954},
{"model":"BERT Large","metric":"AUC","text":"p no stop","clusters":20,"delta":0.975},
{"model":"BERT Large","metric":"AUC","text":"p no stop","clusters":50,"delta":0.985},
{"model":"BERT Large","metric":"AUC","text":"p no stop","clusters":100,"delta":0.989},
{"model":"BERT Large","metric":"AUC","text":"p no stop","clusters":250,"delta":0.990},
{"model":"BERT Large","metric":"AUC","text":"p no stop","clusters":500,"delta":0.991},
{"model":"BERT Large","metric":"AUC","text":"p swap","clusters":10,"delta":0.022},
{"model":"BERT Large","metric":"AUC","text":"p swap","clusters":20,"delta":0.026},
{"model":"BERT Large","metric":"AUC","text":"p swap","clusters":50,"delta":0.119},
{"model":"BERT Large","metric":"AUC","text":"p swap","clusters":100,"delta":0.181},
{"model":"BERT Large","metric":"AUC","text":"p swap","clusters":250,"delta":0.286},
{"model":"BERT Large","metric":"AUC","text":"p swap","clusters":500,"delta":0.496},
{"model":"BERT Large","metric":"AUC","text":"p no art","clusters":10,"delta":0.001},
{"model":"BERT Large","metric":"AUC","text":"p no art","clusters":20,"delta":0.003},
{"model":"BERT Large","metric":"AUC","text":"p no art","clusters":50,"delta":0.014},
{"model":"BERT Large","metric":"AUC","text":"p no art","clusters":100,"delta":0.075},
{"model":"BERT Large","metric":"AUC","text":"p no art","clusters":250,"delta":0.222},
{"model":"BERT Large","metric":"AUC","text":"p no art","clusters":500,"delta":0.410},
{"model":"BERT Large","metric":"AUC","text":"q","clusters":10,"delta":0.000},
{"model":"BERT Large","metric":"AUC","text":"q","clusters":20,"delta":0.002},
{"model":"BERT Large","metric":"AUC","text":"q","clusters":50,"delta":0.008},
{"model":"BERT Large","metric":"AUC","text":"q","clusters":100,"delta":0.020},
{"model":"BERT Large","metric":"AUC","text":"q","clusters":250,"delta":0.094},
{"model":"BERT Large","metric":"AUC","text":"q","clusters":500,"delta":0.249},
{"model":"BERT Large","metric":"AUC","text":"p","clusters":10,"delta":0.000},
{"model":"BERT Large","metric":"AUC","text":"p","clusters":20,"delta":0.000},
{"model":"BERT Large","metric":"AUC","text":"p","clusters":50,"delta":0.001},
{"model":"BERT Large","metric":"AUC","text":"p","clusters":100,"delta":0.007},
{"model":"BERT Large","metric":"AUC","text":"p","clusters":250,"delta":0.045},
{"model":"BERT Large","metric":"AUC","text":"p","clusters":500,"delta":0.162},
{"model":"BERT Large","metric":"AUC","text":"p short","clusters":10,"delta":0.004},
{"model":"BERT Large","metric":"AUC","text":"p short","clusters":20,"delta":0.032},
{"model":"BERT Large","metric":"AUC","text":"p short","clusters":50,"delta":0.051},
{"model":"BERT Large","metric":"AUC","text":"p short","clusters":100,"delta":0.063},
{"model":"BERT Large","metric":"AUC","text":"p short","clusters":250,"delta":0.115},
{"model":"BERT Large","metric":"AUC","text":"p short","clusters":500,"delta":0.255}
]},
"columns": 5,
"align": "each",
"spacing": {"row": 0, "column": -7},
"concat": [
{"width":418,"height":74,"view":{"fill":"#D9D9D9","stroke":"#333333","strokeWidth":2.5},"data":{"values":[{"label":"GPT-2 XL"}]},"mark":{"type":"text","font":"Liberation Serif","fontSize":45,"color":"#1A1A1A"},"encoding":{"text":{"field":"label","type":"nominal"}}},
{"width":418,"height":74,"view":{"fill":"#D9D9D9","stroke":"#333333","strokeWidth":2.5},"data":{"values":[{"label":"GPT-2 XL"}]},"mark":{"type":"text","font":"Liberation Serif","fontSize":45,"color":"#1A1A1A"},"encoding":{"text":{"field":"label","type":"nominal"}}},
{"width":418,"height":74,"view":{"fill":"#D9D9D9","stroke":"#333333","strokeWidth":2.5},"data":{"values":[{"label":"GPT-2 XL"}]},"mark":{"type":"text","font":"Liberation Serif","fontSize":45,"color":"#1A1A1A"},"encoding":{"text":{"field":"label","type":"nominal"}}},
{"width":418,"height":74,"view":{"fill":"#D9D9D9","stroke":"#333333","strokeWidth":2.5},"data":{"values":[{"label":"GPT-2 XL"}]},"mark":{"type":"text","font":"Liberation Serif","fontSize":45,"color":"#1A1A1A"},"encoding":{"text":{"field":"label","type":"nominal"}}},
{"width":418,"height":74,"view":{"fill":"#D9D9D9","stroke":"#333333","strokeWidth":2.5},"data":{"values":[{"label":"GPT-2 XL"}]},"mark":{"type":"text","font":"Liberation Serif","fontSize":45,"color":"#1A1A1A"},"encoding":{"text":{"field":"label","type":"nominal"}}},
{"width":418,"height":74,"view":{"fill":"#D9D9D9","stroke":"#333333","strokeWidth":2.5},"data":{"values":[{"label":"Forward"}]},"mark":{"type":"text","font":"Liberation Serif","fontSize":45,"color":"#1A1A1A"},"encoding":{"text":{"field":"label","type":"nominal"}}},
{"width":418,"height":74,"view":{"fill":"#D9D9D9","stroke":"#333333","strokeWidth":2.5},"data":{"values":[{"label":"Backward"}]},"mark":{"type":"text","font":"Liberation Serif","fontSize":45,"color":"#1A1A1A"},"encoding":{"text":{"field":"label","type":"nominal"}}},
{"width":418,"height":74,"view":{"fill":"#D9D9D9","stroke":"#333333","strokeWidth":2.5},"data":{"values":[{"label":"Exponentiated"}]},"mark":{"type":"text","font":"Liberation Serif","fontSize":45,"color":"#1A1A1A"},"encoding":{"text":{"field":"label","type":"nominal"}}},
{"width":418,"height":74,"view":{"fill":"#D9D9D9","stroke":"#333333","strokeWidth":2.5},"data":{"values":[{"label":"JS"}]},"mark":{"type":"text","font":"Liberation Serif","fontSize":45,"color":"#1A1A1A"},"encoding":{"text":{"field":"label","type":"nominal"}}},
{"width":418,"height":74,"view":{"fill":"#D9D9D9","stroke":"#333333","strokeWidth":2.5},"data":{"values":[{"label":"AUC"}]},"mark":{"type":"text","font":"Liberation Serif","fontSize":45,"color":"#1A1A1A"},"encoding":{"text":{"field":"label","type":"nominal"}}},

{"width":418,"height":418,"data":{"name":"d"},"transform":[{"filter":"datum.model == 'GPT-2 XL' && datum.metric == 'Forward'"}],
 "resolve":{"axis":{"x":"independent","y":"independent"}},
 "layer":[
  {"mark":{"type":"point","filled":true,"opacity":1,"strokeWidth":2.5},
   "encoding":{
    "x":{"field":"clusters","type":"quantitative","scale":{"type":"log","domain":[8.222,608.1],"nice":false},"axis":{"orient":"bottom","values":[10,20,50,100,250,500],"labels":false,"ticks":false,"title":"x","titleOpacity":0,"titleFontSize":17,"titlePadding":4}},
    "y":{"field":"delta","type":"quantitative","scale":{"domain":[-0.22,4.61],"nice":false,"zero":false},"axis":{"orient":"left","values":[0,1,2,3,4],"format":"d","title":null}},
    "stroke":{"field":"text","type":"nominal","title":["Comparison","Text"],"scale":{"domain":["p rand","p no stop","p swap","p no art","q","p short","p"],"range":["#F8766D","#C49A00","#53B400","#00C094","#00B6EB","#A58AFF","#FB61D7"]},"legend":{"orient":"none","legendX":2542,"legendY":347}},
    "fill":{"field":"text","type":"nominal","title":["Comparison","Text"],"scale":{"domain":["p rand","p no stop","p swap","p no art","q","p short","p"],"range":["transparent","#C49A00","#53B400","#00C094","#00B6EB","#A58AFF","#FB61D7"]}},
    "shape":{"field":"text","type":"nominal","title":["Comparison","Text"],"scale":{"domain":["p rand","p no stop","p swap","p no art","q","p short","p"],"range":["circle","diamond","triangle-up","circle","square","circle","circle"]}},
    "size":{"field":"text","type":"nominal","title":["Comparison","Text"],"scale":{"domain":["p rand","p no stop","p swap","p no art","q","p short","p"],"range":[720,680,1350,720,720,380,600]}}}},
  {"mark":{"type":"line","strokeWidth":3.5},
   "encoding":{
    "x":{"field":"clusters","type":"quantitative","axis":{"orient":"top","values":[14.142,31.623,70.711,158.11,353.55],"labels":false,"ticks":false,"title":null,"gridWidth":2}},
    "y":{"field":"delta","type":"quantitative","axis":{"orient":"right","values":[0.5,1.5,2.5,3.5,4.5],"labels":false,"ticks":false,"title":null,"gridWidth":2}},
    "stroke":{"field":"text","type":"nominal","title":["Comparison","Text"],"scale":{"domain":["p rand","p no stop","p swap","p no art","q","p short","p"],"range":["#F8766D","#C49A00","#53B400","#00C094","#00B6EB","#A58AFF","#FB61D7"]}}}}
 ]},

{"width":418,"height":418,"data":{"name":"d"},"transform":[{"filter":"datum.model == 'GPT-2 XL' && datum.metric == 'Backward'"}],
 "resolve":{"axis":{"x":"independent","y":"independent"}},
 "layer":[
  {"mark":{"type":"point","filled":true,"opacity":1,"strokeWidth":2.5},
   "encoding":{
    "x":{"field":"clusters","type":"quantitative","scale":{"type":"log","domain":[8.222,608.1],"nice":false},"axis":{"orient":"bottom","values":[10,20,50,100,250,500],"labels":false,"ticks":false,"title":"x","titleOpacity":0,"titleFontSize":17,"titlePadding":4}},
    "y":{"field":"delta","type":"quantitative","scale":{"domain":[-0.28,5.79],"nice":false,"zero":false},"axis":{"orient":"left","values":[0,2,4],"format":"d","title":null}},
    "stroke":{"field":"text","type":"nominal","title":["Comparison","Text"],"scale":{"domain":["p rand","p no stop","p swap","p no art","q","p short","p"],"range":["#F8766D","#C49A00","#53B400","#00C094","#00B6EB","#A58AFF","#FB61D7"]}},
    "fill":{"field":"text","type":"nominal","title":["Comparison","Text"],"scale":{"domain":["p rand","p no stop","p swap","p no art","q","p short","p"],"range":["transparent","#C49A00","#53B400","#00C094","#00B6EB","#A58AFF","#FB61D7"]}},
    "shape":{"field":"text","type":"nominal","title":["Comparison","Text"],"scale":{"domain":["p rand","p no stop","p swap","p no art","q","p short","p"],"range":["circle","diamond","triangle-up","circle","square","circle","circle"]}},
    "size":{"field":"text","type":"nominal","title":["Comparison","Text"],"scale":{"domain":["p rand","p no stop","p swap","p no art","q","p short","p"],"range":[720,680,1350,720,720,380,600]}}}},
  {"mark":{"type":"line","strokeWidth":3.5},
   "encoding":{
    "x":{"field":"clusters","type":"quantitative","axis":{"orient":"top","values":[14.142,31.623,70.711,158.11,353.55],"labels":false,"ticks":false,"title":null,"gridWidth":2}},
    "y":{"field":"delta","type":"quantitative","axis":{"orient":"right","values":[1,3,5],"labels":false,"ticks":false,"title":null,"gridWidth":2}},
    "stroke":{"field":"text","type":"nominal","title":["Comparison","Text"],"scale":{"domain":["p rand","p no stop","p swap","p no art","q","p short","p"],"range":["#F8766D","#C49A00","#53B400","#00C094","#00B6EB","#A58AFF","#FB61D7"]}}}}
 ]},

{"width":418,"height":418,"data":{"name":"d"},"transform":[{"filter":"datum.model == 'GPT-2 XL' && datum.metric == 'Exponentiated'"}],
 "resolve":{"axis":{"x":"independent","y":"independent"}},
 "layer":[
  {"mark":{"type":"point","filled":true,"opacity":1,"strokeWidth":2.5},
   "encoding":{
    "x":{"field":"clusters","type":"quantitative","scale":{"type":"log","domain":[8.222,608.1],"nice":false},"axis":{"orient":"bottom","values":[10,20,50,100,250,500],"labels":false,"ticks":false,"title":"x","titleOpacity":0,"titleFontSize":17,"titlePadding":4}},
    "y":{"field":"delta","type":"quantitative","scale":{"domain":[-2.95,83.95],"nice":false,"zero":false},"axis":{"orient":"left","values":[0,20,40,60,80],"format":"d","title":null}},
    "stroke":{"field":"text","type":"nominal","title":["Comparison","Text"],"scale":{"domain":["p rand","p no stop","p swap","p no art","q","p short","p"],"range":["#F8766D","#C49A00","#53B400","#00C094","#00B6EB","#A58AFF","#FB61D7"]}},
    "fill":{"field":"text","type":"nominal","title":["Comparison","Text"],"scale":{"domain":["p rand","p no stop","p swap","p no art","q","p short","p"],"range":["transparent","#C49A00","#53B400","#00C094","#00B6EB","#A58AFF","#FB61D7"]}},
    "shape":{"field":"text","type":"nominal","title":["Comparison","Text"],"scale":{"domain":["p rand","p no stop","p swap","p no art","q","p short","p"],"range":["circle","diamond","triangle-up","circle","square","circle","circle"]}},
    "size":{"field":"text","type":"nominal","title":["Comparison","Text"],"scale":{"domain":["p rand","p no stop","p swap","p no art","q","p short","p"],"range":[720,680,1350,720,720,380,600]}}}},
  {"mark":{"type":"line","strokeWidth":3.5},
   "encoding":{
    "x":{"field":"clusters","type":"quantitative","axis":{"orient":"top","values":[14.142,31.623,70.711,158.11,353.55],"labels":false,"ticks":false,"title":null,"gridWidth":2}},
    "y":{"field":"delta","type":"quantitative","axis":{"orient":"right","values":[10,30,50,70],"labels":false,"ticks":false,"title":null,"gridWidth":2}},
    "stroke":{"field":"text","type":"nominal","title":["Comparison","Text"],"scale":{"domain":["p rand","p no stop","p swap","p no art","q","p short","p"],"range":["#F8766D","#C49A00","#53B400","#00C094","#00B6EB","#A58AFF","#FB61D7"]}}}}
 ]},

{"width":418,"height":418,"data":{"name":"d"},"transform":[{"filter":"datum.model == 'GPT-2 XL' && datum.metric == 'JS'"}],
 "resolve":{"axis":{"x":"independent","y":"independent"}},
 "layer":[
  {"mark":{"type":"point","filled":true,"opacity":1,"strokeWidth":2.5},
   "encoding":{
    "x":{"field":"clusters","type":"quantitative","scale":{"type":"log","domain":[8.222,608.1],"nice":false},"axis":{"orient":"bottom","values":[10,20,50,100,250,500],"labels":false,"ticks":false,"title":"x","titleOpacity":0,"titleFontSize":17,"titlePadding":4}},
    "y":{"field":"delta","type":"quantitative","scale":{"domain":[-0.034,0.705],"nice":false,"zero":false},"axis":{"orient":"left","values":[0,0.2,0.4,0.6],"format":".1f","title":null}},
    "stroke":{"field":"text","type":"nominal","title":["Comparison","Text"],"scale":{"domain":["p rand","p no stop","p swap","p no art","q","p short","p"],"range":["#F8766D","#C49A00","#53B400","#00C094","#00B6EB","#A58AFF","#FB61D7"]}},
    "fill":{"field":"text","type":"nominal","title":["Comparison","Text"],"scale":{"domain":["p rand","p no stop","p swap","p no art","q","p short","p"],"range":["transparent","#C49A00","#53B400","#00C094","#00B6EB","#A58AFF","#FB61D7"]}},
    "shape":{"field":"text","type":"nominal","title":["Comparison","Text"],"scale":{"domain":["p rand","p no stop","p swap","p no art","q","p short","p"],"range":["circle","diamond","triangle-up","circle","square","circle","circle"]}},
    "size":{"field":"text","type":"nominal","title":["Comparison","Text"],"scale":{"domain":["p rand","p no stop","p swap","p no art","q","p short","p"],"range":[720,680,1350,720,720,380,600]}}}},
  {"mark":{"type":"line","strokeWidth":3.5},
   "encoding":{
    "x":{"field":"clusters","type":"quantitative","axis":{"orient":"top","values":[14.142,31.623,70.711,158.11,353.55],"labels":false,"ticks":false,"title":null,"gridWidth":2}},
    "y":{"field":"delta","type":"quantitative","axis":{"orient":"right","values":[0.1,0.3,0.5,0.7],"labels":false,"ticks":false,"title":null,"gridWidth":2}},
    "stroke":{"field":"text","type":"nominal","title":["Comparison","Text"],"scale":{"domain":["p rand","p no stop","p swap","p no art","q","p short","p"],"range":["#F8766D","#C49A00","#53B400","#00C094","#00B6EB","#A58AFF","#FB61D7"]}}}}
 ]},

{"width":418,"height":418,"data":{"name":"d"},"transform":[{"filter":"datum.model == 'GPT-2 XL' && datum.metric == 'AUC'"}],
 "resolve":{"axis":{"x":"independent","y":"independent"}},
 "layer":[
  {"mark":{"type":"point","filled":true,"opacity":1,"strokeWidth":2.5},
   "encoding":{
    "x":{"field":"clusters","type":"quantitative","scale":{"type":"log","domain":[8.222,608.1],"nice":false},"axis":{"orient":"bottom","values":[10,20,50,100,250,500],"labels":false,"ticks":false,"title":"x","titleOpacity":0,"titleFontSize":17,"titlePadding":4}},
    "y":{"field":"delta","type":"quantitative","scale":{"domain":[-0.05,1.047],"nice":false,"zero":false},"axis":{"orient":"left","values":[0,0.25,0.5,0.75,1],"format":".2f","title":null}},
    "stroke":{"field":"text","type":"nominal","title":["Comparison","Text"],"scale":{"domain":["p rand","p no stop","p swap","p no art","q","p short","p"],"range":["#F8766D","#C49A00","#53B400","#00C094","#00B6EB","#A58AFF","#FB61D7"]}},
    "fill":{"field":"text","type":"nominal","title":["Comparison","Text"],"scale":{"domain":["p rand","p no stop","p swap","p no art","q","p short","p"],"range":["transparent","#C49A00","#53B400","#00C094","#00B6EB","#A58AFF","#FB61D7"]}},
    "shape":{"field":"text","type":"nominal","title":["Comparison","Text"],"scale":{"domain":["p rand","p no stop","p swap","p no art","q","p short","p"],"range":["circle","diamond","triangle-up","circle","square","circle","circle"]}},
    "size":{"field":"text","type":"nominal","title":["Comparison","Text"],"scale":{"domain":["p rand","p no stop","p swap","p no art","q","p short","p"],"range":[720,680,1350,720,720,380,600]}}}},
  {"mark":{"type":"line","strokeWidth":3.5},
   "encoding":{
    "x":{"field":"clusters","type":"quantitative","axis":{"orient":"top","values":[14.142,31.623,70.711,158.11,353.55],"labels":false,"ticks":false,"title":null,"gridWidth":2}},
    "y":{"field":"delta","type":"quantitative","axis":{"orient":"right","values":[0.125,0.375,0.625,0.875],"labels":false,"ticks":false,"title":null,"gridWidth":2}},
    "stroke":{"field":"text","type":"nominal","title":["Comparison","Text"],"scale":{"domain":["p rand","p no stop","p swap","p no art","q","p short","p"],"range":["#F8766D","#C49A00","#53B400","#00C094","#00B6EB","#A58AFF","#FB61D7"]}}}}
 ]},

{"width":418,"height":74,"view":{"fill":"#D9D9D9","stroke":"#333333","strokeWidth":2.5},"data":{"values":[{"label":"BERT Large"}]},"mark":{"type":"text","font":"Liberation Serif","fontSize":45,"color":"#1A1A1A"},"encoding":{"text":{"field":"label","type":"nominal"}}},
{"width":418,"height":74,"view":{"fill":"#D9D9D9","stroke":"#333333","strokeWidth":2.5},"data":{"values":[{"label":"BERT Large"}]},"mark":{"type":"text","font":"Liberation Serif","fontSize":45,"color":"#1A1A1A"},"encoding":{"text":{"field":"label","type":"nominal"}}},
{"width":418,"height":74,"view":{"fill":"#D9D9D9","stroke":"#333333","strokeWidth":2.5},"data":{"values":[{"label":"BERT Large"}]},"mark":{"type":"text","font":"Liberation Serif","fontSize":45,"color":"#1A1A1A"},"encoding":{"text":{"field":"label","type":"nominal"}}},
{"width":418,"height":74,"view":{"fill":"#D9D9D9","stroke":"#333333","strokeWidth":2.5},"data":{"values":[{"label":"BERT Large"}]},"mark":{"type":"text","font":"Liberation Serif","fontSize":45,"color":"#1A1A1A"},"encoding":{"text":{"field":"label","type":"nominal"}}},
{"width":418,"height":74,"view":{"fill":"#D9D9D9","stroke":"#333333","strokeWidth":2.5},"data":{"values":[{"label":"BERT Large"}]},"mark":{"type":"text","font":"Liberation Serif","fontSize":45,"color":"#1A1A1A"},"encoding":{"text":{"field":"label","type":"nominal"}}},
{"width":418,"height":74,"view":{"fill":"#D9D9D9","stroke":"#333333","strokeWidth":2.5},"data":{"values":[{"label":"Forward"}]},"mark":{"type":"text","font":"Liberation Serif","fontSize":45,"color":"#1A1A1A"},"encoding":{"text":{"field":"label","type":"nominal"}}},
{"width":418,"height":74,"view":{"fill":"#D9D9D9","stroke":"#333333","strokeWidth":2.5},"data":{"values":[{"label":"Backward"}]},"mark":{"type":"text","font":"Liberation Serif","fontSize":45,"color":"#1A1A1A"},"encoding":{"text":{"field":"label","type":"nominal"}}},
{"width":418,"height":74,"view":{"fill":"#D9D9D9","stroke":"#333333","strokeWidth":2.5},"data":{"values":[{"label":"Exponentiated"}]},"mark":{"type":"text","font":"Liberation Serif","fontSize":45,"color":"#1A1A1A"},"encoding":{"text":{"field":"label","type":"nominal"}}},
{"width":418,"height":74,"view":{"fill":"#D9D9D9","stroke":"#333333","strokeWidth":2.5},"data":{"values":[{"label":"JS"}]},"mark":{"type":"text","font":"Liberation Serif","fontSize":45,"color":"#1A1A1A"},"encoding":{"text":{"field":"label","type":"nominal"}}},
{"width":418,"height":74,"view":{"fill":"#D9D9D9","stroke":"#333333","strokeWidth":2.5},"data":{"values":[{"label":"AUC"}]},"mark":{"type":"text","font":"Liberation Serif","fontSize":45,"color":"#1A1A1A"},"encoding":{"text":{"field":"label","type":"nominal"}}},

{"width":418,"height":418,"data":{"name":"d"},"transform":[{"filter":"datum.model == 'BERT Large' && datum.metric == 'Forward'"}],
 "resolve":{"axis":{"x":"independent","y":"independent"}},
 "layer":[
  {"mark":{"type":"point","filled":true,"opacity":1,"strokeWidth":2.5},
   "encoding":{
    "x":{"field":"clusters","type":"quantitative","scale":{"type":"log","domain":[8.222,608.1],"nice":false},"axis":{"orient":"bottom","values":[10,20,50,100,250,500],"labelAngle":-30,"labelAlign":"center","labelBaseline":"top","labelPadding":4,"title":null}},
    "y":{"field":"delta","type":"quantitative","scale":{"domain":[-0.26,5.51],"nice":false,"zero":false},"axis":{"orient":"left","values":[0,1,2,3,4,5],"format":"d","title":null}},
    "stroke":{"field":"text","type":"nominal","title":["Comparison","Text"],"scale":{"domain":["p rand","p no stop","p swap","p no art","q","p short","p"],"range":["#F8766D","#C49A00","#53B400","#00C094","#00B6EB","#A58AFF","#FB61D7"]}},
    "fill":{"field":"text","type":"nominal","title":["Comparison","Text"],"scale":{"domain":["p rand","p no stop","p swap","p no art","q","p short","p"],"range":["transparent","#C49A00","#53B400","#00C094","#00B6EB","#A58AFF","#FB61D7"]}},
    "shape":{"field":"text","type":"nominal","title":["Comparison","Text"],"scale":{"domain":["p rand","p no stop","p swap","p no art","q","p short","p"],"range":["circle","diamond","triangle-up","circle","square","circle","circle"]}},
    "size":{"field":"text","type":"nominal","title":["Comparison","Text"],"scale":{"domain":["p rand","p no stop","p swap","p no art","q","p short","p"],"range":[720,680,1350,720,720,380,600]}}}},
  {"mark":{"type":"line","strokeWidth":3.5},
   "encoding":{
    "x":{"field":"clusters","type":"quantitative","axis":{"orient":"top","values":[14.142,31.623,70.711,158.11,353.55],"labels":false,"ticks":false,"title":null,"gridWidth":2}},
    "y":{"field":"delta","type":"quantitative","axis":{"orient":"right","values":[0.5,1.5,2.5,3.5,4.5,5.5],"labels":false,"ticks":false,"title":null,"gridWidth":2}},
    "stroke":{"field":"text","type":"nominal","title":["Comparison","Text"],"scale":{"domain":["p rand","p no stop","p swap","p no art","q","p short","p"],"range":["#F8766D","#C49A00","#53B400","#00C094","#00B6EB","#A58AFF","#FB61D7"]}}}}
 ]},

{"width":418,"height":418,"data":{"name":"d"},"transform":[{"filter":"datum.model == 'BERT Large' && datum.metric == 'Backward'"}],
 "resolve":{"axis":{"x":"independent","y":"independent"}},
 "layer":[
  {"mark":{"type":"point","filled":true,"opacity":1,"strokeWidth":2.5},
   "encoding":{
    "x":{"field":"clusters","type":"quantitative","scale":{"type":"log","domain":[8.222,608.1],"nice":false},"axis":{"orient":"bottom","values":[10,20,50,100,250,500],"labelAngle":-30,"labelAlign":"center","labelBaseline":"top","labelPadding":4,"title":null}},
    "y":{"field":"delta","type":"quantitative","scale":{"domain":[-0.31,6.49],"nice":false,"zero":false},"axis":{"orient":"left","values":[0,2,4,6],"format":"d","title":null}},
    "stroke":{"field":"text","type":"nominal","title":["Comparison","Text"],"scale":{"domain":["p rand","p no stop","p swap","p no art","q","p short","p"],"range":["#F8766D","#C49A00","#53B400","#00C094","#00B6EB","#A58AFF","#FB61D7"]}},
    "fill":{"field":"text","type":"nominal","title":["Comparison","Text"],"scale":{"domain":["p rand","p no stop","p swap","p no art","q","p short","p"],"range":["transparent","#C49A00","#53B400","#00C094","#00B6EB","#A58AFF","#FB61D7"]}},
    "shape":{"field":"text","type":"nominal","title":["Comparison","Text"],"scale":{"domain":["p rand","p no stop","p swap","p no art","q","p short","p"],"range":["circle","diamond","triangle-up","circle","square","circle","circle"]}},
    "size":{"field":"text","type":"nominal","title":["Comparison","Text"],"scale":{"domain":["p rand","p no stop","p swap","p no art","q","p short","p"],"range":[720,680,1350,720,720,380,600]}}}},
  {"mark":{"type":"line","strokeWidth":3.5},
   "encoding":{
    "x":{"field":"clusters","type":"quantitative","axis":{"orient":"top","values":[14.142,31.623,70.711,158.11,353.55],"labels":false,"ticks":false,"title":null,"gridWidth":2}},
    "y":{"field":"delta","type":"quantitative","axis":{"orient":"right","values":[1,3,5],"labels":false,"ticks":false,"title":null,"gridWidth":2}},
    "stroke":{"field":"text","type":"nominal","title":["Comparison","Text"],"scale":{"domain":["p rand","p no stop","p swap","p no art","q","p short","p"],"range":["#F8766D","#C49A00","#53B400","#00C094","#00B6EB","#A58AFF","#FB61D7"]}}}}
 ]},

{"width":418,"height":418,"data":{"name":"d"},"transform":[{"filter":"datum.model == 'BERT Large' && datum.metric == 'Exponentiated'"}],
 "resolve":{"axis":{"x":"independent","y":"independent"}},
 "layer":[
  {"mark":{"type":"point","filled":true,"opacity":1,"strokeWidth":2.5},
   "encoding":{
    "x":{"field":"clusters","type":"quantitative","scale":{"type":"log","domain":[8.222,608.1],"nice":false},"axis":{"orient":"bottom","values":[10,20,50,100,250,500],"labelAngle":-30,"labelAlign":"center","labelBaseline":"top","labelPadding":4,"title":"Number of Clusters","titleX":222,"titlePadding":8}},
    "y":{"field":"delta","type":"quantitative","scale":{"domain":[-8.5,200.1],"nice":false,"zero":false},"axis":{"orient":"left","values":[0,50,100,150,200],"format":"d","title":null,"labelFlush":true}},
    "stroke":{"field":"text","type":"nominal","title":["Comparison","Text"],"scale":{"domain":["p rand","p no stop","p swap","p no art","q","p short","p"],"range":["#F8766D","#C49A00","#53B400","#00C094","#00B6EB","#A58AFF","#FB61D7"]}},
    "fill":{"field":"text","type":"nominal","title":["Comparison","Text"],"scale":{"domain":["p rand","p no stop","p swap","p no art","q","p short","p"],"range":["transparent","#C49A00","#53B400","#00C094","#00B6EB","#A58AFF","#FB61D7"]}},
    "shape":{"field":"text","type":"nominal","title":["Comparison","Text"],"scale":{"domain":["p rand","p no stop","p swap","p no art","q","p short","p"],"range":["circle","diamond","triangle-up","circle","square","circle","circle"]}},
    "size":{"field":"text","type":"nominal","title":["Comparison","Text"],"scale":{"domain":["p rand","p no stop","p swap","p no art","q","p short","p"],"range":[720,680,1350,720,720,380,600]}}}},
  {"mark":{"type":"line","strokeWidth":3.5},
   "encoding":{
    "x":{"field":"clusters","type":"quantitative","axis":{"orient":"top","values":[14.142,31.623,70.711,158.11,353.55],"labels":false,"ticks":false,"title":null,"gridWidth":2}},
    "y":{"field":"delta","type":"quantitative","axis":{"orient":"right","values":[25,75,125,175],"labels":false,"ticks":false,"title":null,"gridWidth":2}},
    "stroke":{"field":"text","type":"nominal","title":["Comparison","Text"],"scale":{"domain":["p rand","p no stop","p swap","p no art","q","p short","p"],"range":["#F8766D","#C49A00","#53B400","#00C094","#00B6EB","#A58AFF","#FB61D7"]}}}}
 ]},

{"width":418,"height":418,"data":{"name":"d"},"transform":[{"filter":"datum.model == 'BERT Large' && datum.metric == 'JS'"}],
 "resolve":{"axis":{"x":"independent","y":"independent"}},
 "layer":[
  {"mark":{"type":"point","filled":true,"opacity":1,"strokeWidth":2.5},
   "encoding":{
    "x":{"field":"clusters","type":"quantitative","scale":{"type":"log","domain":[8.222,608.1],"nice":false},"axis":{"orient":"bottom","values":[10,20,50,100,250,500],"labelAngle":-30,"labelAlign":"center","labelBaseline":"top","labelPadding":4,"title":null}},
    "y":{"field":"delta","type":"quantitative","scale":{"domain":[-0.034,0.72],"nice":false,"zero":false},"axis":{"orient":"left","values":[0,0.2,0.4,0.6],"format":".1f","title":null}},
    "stroke":{"field":"text","type":"nominal","title":["Comparison","Text"],"scale":{"domain":["p rand","p no stop","p swap","p no art","q","p short","p"],"range":["#F8766D","#C49A00","#53B400","#00C094","#00B6EB","#A58AFF","#FB61D7"]}},
    "fill":{"field":"text","type":"nominal","title":["Comparison","Text"],"scale":{"domain":["p rand","p no stop","p swap","p no art","q","p short","p"],"range":["transparent","#C49A00","#53B400","#00C094","#00B6EB","#A58AFF","#FB61D7"]}},
    "shape":{"field":"text","type":"nominal","title":["Comparison","Text"],"scale":{"domain":["p rand","p no stop","p swap","p no art","q","p short","p"],"range":["circle","diamond","triangle-up","circle","square","circle","circle"]}},
    "size":{"field":"text","type":"nominal","title":["Comparison","Text"],"scale":{"domain":["p rand","p no stop","p swap","p no art","q","p short","p"],"range":[720,680,1350,720,720,380,600]}}}},
  {"mark":{"type":"line","strokeWidth":3.5},
   "encoding":{
    "x":{"field":"clusters","type":"quantitative","axis":{"orient":"top","values":[14.142,31.623,70.711,158.11,353.55],"labels":false,"ticks":false,"title":null,"gridWidth":2}},
    "y":{"field":"delta","type":"quantitative","axis":{"orient":"right","values":[0.1,0.3,0.5,0.7],"labels":false,"ticks":false,"title":null,"gridWidth":2}},
    "stroke":{"field":"text","type":"nominal","title":["Comparison","Text"],"scale":{"domain":["p rand","p no stop","p swap","p no art","q","p short","p"],"range":["#F8766D","#C49A00","#53B400","#00C094","#00B6EB","#A58AFF","#FB61D7"]}}}}
 ]},

{"width":418,"height":418,"data":{"name":"d"},"transform":[{"filter":"datum.model == 'BERT Large' && datum.metric == 'AUC'"}],
 "resolve":{"axis":{"x":"independent","y":"independent"}},
 "layer":[
  {"mark":{"type":"point","filled":true,"opacity":1,"strokeWidth":2.5},
   "encoding":{
    "x":{"field":"clusters","type":"quantitative","scale":{"type":"log","domain":[8.222,608.1],"nice":false},"axis":{"orient":"bottom","values":[10,20,50,100,250,500],"labelAngle":-30,"labelAlign":"center","labelBaseline":"top","labelPadding":4,"title":null}},
    "y":{"field":"delta","type":"quantitative","scale":{"domain":[-0.05,1.045],"nice":false,"zero":false},"axis":{"orient":"left","values":[0,0.25,0.5,0.75,1],"format":".2f","title":null}},
    "stroke":{"field":"text","type":"nominal","title":["Comparison","Text"],"scale":{"domain":["p rand","p no stop","p swap","p no art","q","p short","p"],"range":["#F8766D","#C49A00","#53B400","#00C094","#00B6EB","#A58AFF","#FB61D7"]}},
    "fill":{"field":"text","type":"nominal","title":["Comparison","Text"],"scale":{"domain":["p rand","p no stop","p swap","p no art","q","p short","p"],"range":["transparent","#C49A00","#53B400","#00C094","#00B6EB","#A58AFF","#FB61D7"]}},
    "shape":{"field":"text","type":"nominal","title":["Comparison","Text"],"scale":{"domain":["p rand","p no stop","p swap","p no art","q","p short","p"],"range":["circle","diamond","triangle-up","circle","square","circle","circle"]}},
    "size":{"field":"text","type":"nominal","title":["Comparison","Text"],"scale":{"domain":["p rand","p no stop","p swap","p no art","q","p short","p"],"range":[720,680,1350,720,720,380,600]}}}},
  {"mark":{"type":"line","strokeWidth":3.5},
   "encoding":{
    "x":{"field":"clusters","type":"quantitative","axis":{"orient":"top","values":[14.142,31.623,70.711,158.11,353.55],"labels":false,"ticks":false,"title":null,"gridWidth":2}},
    "y":{"field":"delta","type":"quantitative","axis":{"orient":"right","values":[0.125,0.375,0.625,0.875],"labels":false,"ticks":false,"title":null,"gridWidth":2}},
    "stroke":{"field":"text","type":"nominal","title":["Comparison","Text"],"scale":{"domain":["p rand","p no stop","p swap","p no art","q","p short","p"],"range":["#F8766D","#C49A00","#53B400","#00C094","#00B6EB","#A58AFF","#FB61D7"]}}}}
 ]}
]
}
